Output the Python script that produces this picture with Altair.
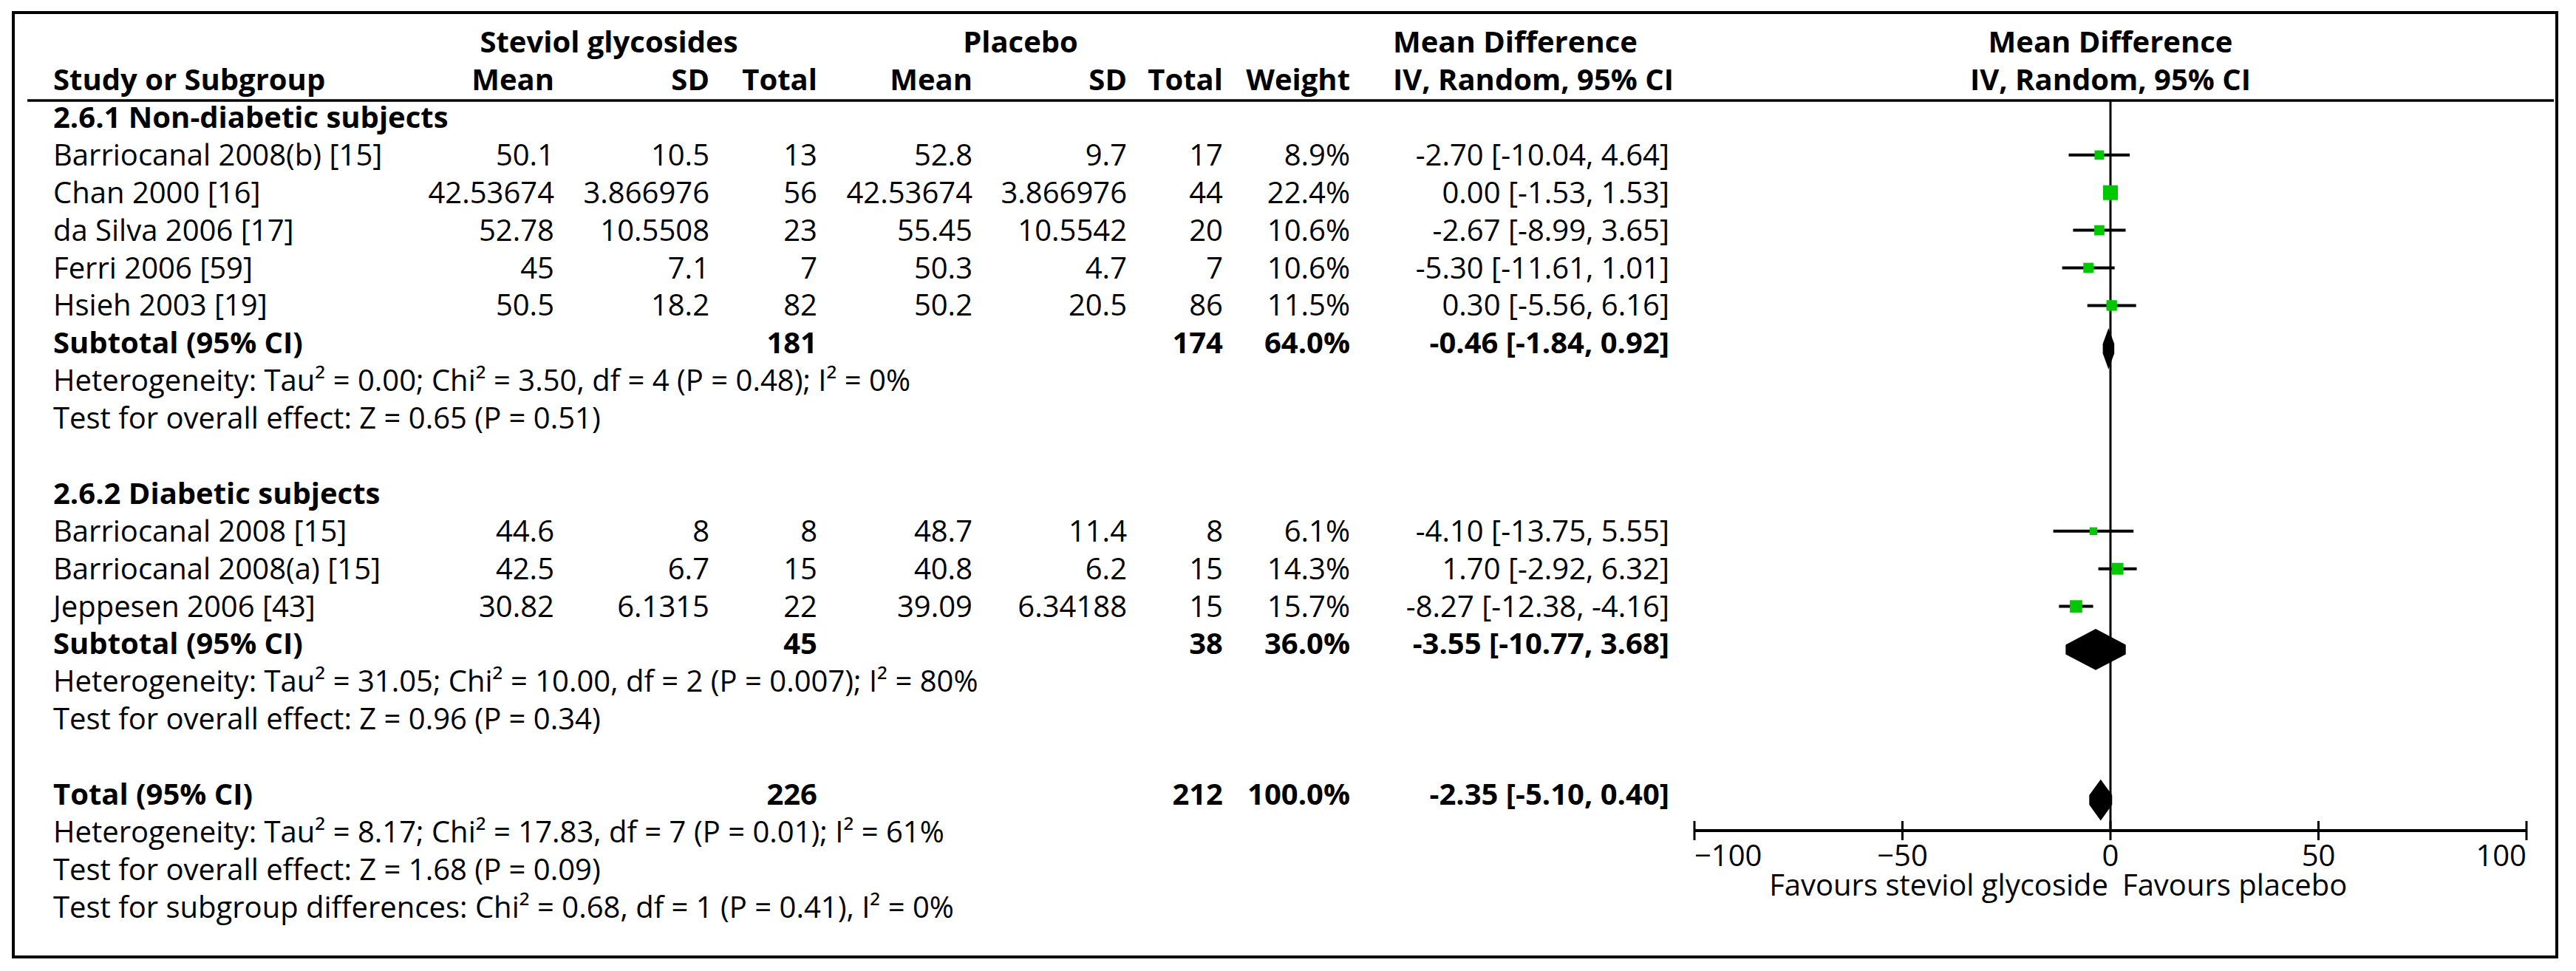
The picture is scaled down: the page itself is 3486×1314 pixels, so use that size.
import altair as alt
import pandas as pd

FONT = "Open Sans"
FS = 40

# ---------------- data ----------------
group_titles = ["2.6.1 Non-diabetic subjects", "2.6.2 Diabetic subjects"]

g1_studies = ["Barriocanal 2008(b) [15]", "Chan 2000 [16]", "da Silva 2006 [17]",
              "Ferri 2006 [59]", "Hsieh 2003 [19]"]
g1_sg_mean = ["50.1", "42.53674", "52.78", "45", "50.5"]
g1_sg_sd = ["10.5", "3.866976", "10.5508", "7.1", "18.2"]
g1_sg_n = [13, 56, 23, 7, 82]
g1_pl_mean = ["52.8", "42.53674", "55.45", "50.3", "50.2"]
g1_pl_sd = ["9.7", "3.866976", "10.5542", "4.7", "20.5"]
g1_pl_n = [17, 44, 20, 7, 86]
g1_weight = [8.9, 22.4, 10.6, 10.6, 11.5]
g1_md = [-2.70, 0.00, -2.67, -5.30, 0.30]
g1_lo = [-10.04, -1.53, -8.99, -11.61, -5.56]
g1_hi = [4.64, 1.53, 3.65, 1.01, 6.16]

g2_studies = ["Barriocanal 2008 [15]", "Barriocanal 2008(a) [15]", "Jeppesen 2006 [43]"]
g2_sg_mean = ["44.6", "42.5", "30.82"]
g2_sg_sd = ["8", "6.7", "6.1315"]
g2_sg_n = [8, 15, 22]
g2_pl_mean = ["48.7", "40.8", "39.09"]
g2_pl_sd = ["11.4", "6.2", "6.34188"]
g2_pl_n = [8, 15, 15]
g2_weight = [6.1, 14.3, 15.7]
g2_md = [-4.10, 1.70, -8.27]
g2_lo = [-13.75, -2.92, -12.38]
g2_hi = [5.55, 6.32, -4.16]

summary_labels = ["Subtotal (95% CI)", "Subtotal (95% CI)", "Total (95% CI)"]
summary_sg_n = [181, 45, 226]
summary_pl_n = [174, 38, 212]
summary_weight = [64.0, 36.0, 100.0]
summary_md = [-0.46, -3.55, -2.35]
summary_lo = [-1.84, -10.77, -5.10]
summary_hi = [0.92, 3.68, 0.40]

g1_notes = ["Heterogeneity: Tau² = 0.00; Chi² = 3.50, df = 4 (P = 0.48); I² = 0%",
            "Test for overall effect: Z = 0.65 (P = 0.51)"]
g2_notes = ["Heterogeneity: Tau² = 31.05; Chi² = 10.00, df = 2 (P = 0.007); I² = 80%",
            "Test for overall effect: Z = 0.96 (P = 0.34)"]
total_notes = ["Heterogeneity: Tau² = 8.17; Chi² = 17.83, df = 7 (P = 0.01); I² = 61%",
               "Test for overall effect: Z = 1.68 (P = 0.09)",
               "Test for subgroup differences: Chi² = 0.68, df = 1 (P = 0.41), I² = 0%"]

header_groups = ["Steviol glycosides", "Placebo", "Mean Difference"]
header_cols = ["Study or Subgroup", "Mean", "SD", "Total", "Mean", "SD", "Total", "Weight",
               "IV, Random, 95% CI"]
forest_header = ["Mean Difference", "IV, Random, 95% CI"]
axis_ticks = [-100, -50, 0, 50, 100]
favours = ["Favours steviol glycoside", "Favours placebo"]

# ---------------- layout (pixels / row units) ----------------
W, H = 3462, 1116
ROW_TOP, AXIS_ROW = -1.24, 20.686
RULE_ROW = 1.275
TICK_HALF = 0.255
TICKLABEL_ROW = 21.63
FAVOURS_ROW = 22.41
DIAMOND_HALF = 0.42
COL = dict(name=64, m1=742, sd1=952, n1=1098, m2=1308, sd2=1517, n2=1647,
           weight=1819, ci=2251, mdhead=1877, sg_center=816, pl_center=1373)
GREEN = "#00c800"

yscale = alt.Scale(domain=[ROW_TOP, AXIS_ROW], reverse=True, nice=False, zero=False)
xscale = alt.Scale(domain=[-100, 100], range=[2285, 3411], nice=False, zero=False)


def Y(f):
    return alt.Y(f, type="quantitative", scale=yscale, axis=None)


def X(f):
    return alt.X(f, type="quantitative", scale=xscale, axis=None)


def ci_text(m, lo, hi):
    return f"{m:.2f} [{lo:.2f}, {hi:.2f}]"


# ---------------- build table ----------------
rows = []
r = 2
groups = [
    (g1_studies, g1_sg_mean, g1_sg_sd, g1_sg_n, g1_pl_mean, g1_pl_sd, g1_pl_n,
     g1_weight, g1_md, g1_lo, g1_hi, g1_notes),
    (g2_studies, g2_sg_mean, g2_sg_sd, g2_sg_n, g2_pl_mean, g2_pl_sd, g2_pl_n,
     g2_weight, g2_md, g2_lo, g2_hi, g2_notes),
]
for gi, (st, m1, s1, n1, m2, s2, n2, w, md, lo, hi, notes) in enumerate(groups):
    rows.append(dict(row=r, kind="title", label=group_titles[gi]))
    r += 1
    for i in range(len(st)):
        rows.append(dict(row=r, kind="study", label=st[i], m1=m1[i], sd1=s1[i], n1=str(n1[i]),
                         m2=m2[i], sd2=s2[i], n2=str(n2[i]), weight=f"{w[i]:.1f}%",
                         ci=ci_text(md[i], lo[i], hi[i]), w=w[i], md=md[i], lo=lo[i], hi=hi[i]))
        r += 1
    rows.append(dict(row=r, kind="summary", label=summary_labels[gi], n1=str(summary_sg_n[gi]),
                     n2=str(summary_pl_n[gi]), weight=f"{summary_weight[gi]:.1f}%",
                     ci=ci_text(summary_md[gi], summary_lo[gi], summary_hi[gi]),
                     md=summary_md[gi], lo=summary_lo[gi], hi=summary_hi[gi]))
    r += 1
    for n in notes:
        rows.append(dict(row=r, kind="note", label=n))
        r += 1
    r += 1
rows.append(dict(row=r, kind="summary", label=summary_labels[2], n1=str(summary_sg_n[2]),
                 n2=str(summary_pl_n[2]), weight=f"{summary_weight[2]:.1f}%",
                 ci=ci_text(summary_md[2], summary_lo[2], summary_hi[2]),
                 md=summary_md[2], lo=summary_lo[2], hi=summary_hi[2]))
r += 1
for n in total_notes:
    rows.append(dict(row=r, kind="note", label=n))
    r += 1

table = pd.DataFrame(rows)
study_df = table[table.kind == "study"].copy()
summ_df = table[table.kind == "summary"].copy()
plain_lab = table[table.kind.isin(["study", "note"])][["row", "label"]]
bold_lab = table[table.kind.isin(["title", "summary"])][["row", "label"]]


def txt(df, field, x, align, bold=False, **kw):
    return alt.Chart(df).mark_text(
        align=align, baseline="alphabetic", font=FONT, fontSize=FS,
        fontWeight="bold" if bold else "normal", color="black", **kw
    ).encode(x=x, y=Y("row"), text=alt.Text(f"{field}:N"))


layers = []

# frame and header rule
frame_df = pd.DataFrame({"k": [0]})
layers.append(alt.Chart(frame_df).mark_rect(filled=False, stroke="black", strokeWidth=4).encode(
    x=alt.value(10), x2=alt.value(3452), y=alt.value(9), y2=alt.value(1287)))
layers.append(alt.Chart(frame_df).mark_rule(color="black", strokeWidth=3.5).encode(
    x=alt.value(29), x2=alt.value(3448), y=alt.value(128)))

# headers
hg = pd.DataFrame({"row": [0] * 3, "label": header_groups})
layers.append(txt(hg.iloc[[0]], "label", alt.value(COL["sg_center"]), "center", True))
layers.append(txt(hg.iloc[[1]], "label", alt.value(COL["pl_center"]), "center", True))
layers.append(txt(hg.iloc[[2]], "label", alt.value(COL["mdhead"]), "left", True))
hc = pd.DataFrame({"row": [1] * len(header_cols), "label": header_cols})
hc_pos = [("name", "left"), ("m1", "right"), ("sd1", "right"), ("n1", "right"),
          ("m2", "right"), ("sd2", "right"), ("n2", "right"), ("weight", "right"),
          ("mdhead", "left")]
for i, (k, al) in enumerate(hc_pos):
    layers.append(txt(hc.iloc[[i]], "label", alt.value(COL[k]), al, True))

fh = pd.DataFrame({"row": [0, 1], "label": forest_header, "x0": [0, 0]})
layers.append(txt(fh, "label", X("x0"), "center", True))

# table body
layers.append(txt(plain_lab, "label", alt.value(COL["name"]), "left"))
layers.append(txt(bold_lab, "label", alt.value(COL["name"]), "left", True))
for k in ["m1", "sd1", "n1", "m2", "sd2", "n2", "weight", "ci"]:
    layers.append(txt(study_df[["row", k]], k, alt.value(COL[k]), "right"))
for k in ["n1", "n2", "weight", "ci"]:
    layers.append(txt(summ_df[["row", k]], k, alt.value(COL[k]), "right", True))

# forest: zero line
zero_df = pd.DataFrame({"x0": [0], "ya": [RULE_ROW], "yb": [AXIS_ROW]})
layers.append(alt.Chart(zero_df).mark_rule(color="black", strokeWidth=3).encode(
    x=X("x0"), y=Y("ya"), y2="yb"))

# axis line, ticks, labels
ax_df = pd.DataFrame({"a": [min(axis_ticks)], "b": [max(axis_ticks)], "y": [AXIS_ROW]})
layers.append(alt.Chart(ax_df).mark_rule(color="black", strokeWidth=4).encode(
    x=X("a"), x2="b", y=Y("y")))
tick_df = pd.DataFrame({"t": axis_ticks,
                        "lab": [str(t).replace("-", "\u2212") for t in axis_ticks]})
layers.append(alt.Chart(tick_df).mark_rule(color="black", strokeWidth=3).transform_calculate(
    ya=f"{AXIS_ROW - TICK_HALF}", yb=f"{AXIS_ROW + TICK_HALF}").encode(
    x=X("t"), y=Y("ya"), y2="yb"))
for sel, al in [(tick_df.t == min(axis_ticks), "left"),
                ((tick_df.t > min(axis_ticks)) & (tick_df.t < max(axis_ticks)), "center"),
                (tick_df.t == max(axis_ticks), "right")]:
    d = tick_df[sel].copy()
    d["row"] = TICKLABEL_ROW
    layers.append(txt(d, "lab", X("t"), al))

fav = pd.DataFrame({"label": favours, "x0": [0, 0], "row": [FAVOURS_ROW] * 2})
layers.append(txt(fav.iloc[[0]], "label", X("x0"), "right", dx=-3))
layers.append(txt(fav.iloc[[1]], "label", X("x0"), "left", dx=16))

# CI lines and squares
layers.append(alt.Chart(study_df).mark_rule(color="black", strokeWidth=4, yOffset=-14).encode(
    x=X("lo"), x2="hi", y=Y("row")))
layers.append(alt.Chart(study_df).mark_square(color=GREEN, opacity=1, yOffset=-14).encode(
    x=X("md"), y=Y("row"),
    size=alt.Size("w:Q", scale=alt.Scale(domain=[0, 22.4], range=[0, 400]), legend=None)))

# diamonds
dpts = []
for i, rr in enumerate(summ_df.itertuples()):
    dpts.append(dict(id=i, x=rr.lo, ya=rr.row, yb=rr.row))
    dpts.append(dict(id=i, x=rr.md, ya=rr.row - DIAMOND_HALF, yb=rr.row + DIAMOND_HALF))
    dpts.append(dict(id=i, x=rr.hi, ya=rr.row, yb=rr.row))
dia = pd.DataFrame(dpts)
layers.append(alt.Chart(dia).mark_area(color="black", opacity=1, yOffset=-13,
                                       interpolate="linear").encode(
    x=X("x"), y=Y("ya"), y2="yb", detail="id:N"))

chart = alt.layer(*layers).properties(
    width=W, height=H, padding=0, background="white"
).configure_view(stroke=None)

chart.save("out.html", embed_options={"renderer": "svg", "actions": False})
